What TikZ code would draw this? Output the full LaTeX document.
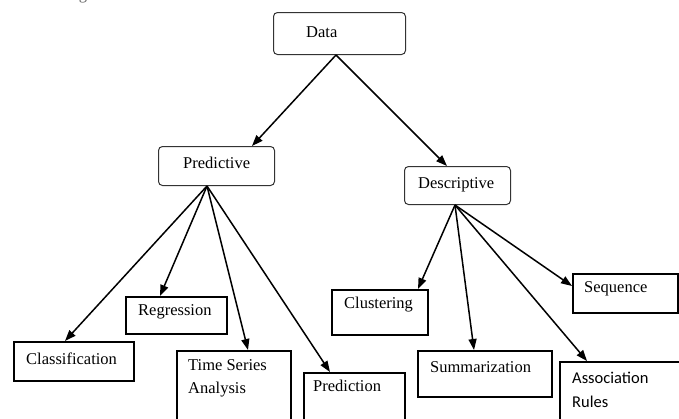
\documentclass[tikz,border=0pt]{standalone}
\usepackage{fontspec}
\setmainfont{Liberation Serif}
\newfontfamily\calib{Carlito}
\usetikzlibrary{arrows.meta}
\tikzset{
  cat/.style={draw=black!80, line width=1pt, rounded corners=4pt, anchor=north west, inner sep=0pt},
  leaf/.style={draw=black, line width=1.6pt, anchor=north west, inner sep=0pt},
  lbl/.style={anchor=west, inner sep=0pt, font=\fontsize{16.5}{23}\selectfont, align=left},
  link/.style={line width=1.5pt, -{Triangle[length=11pt,width=8pt]}}
}
\begin{document}
\begin{tikzpicture}[x=1pt,y=-1pt]
\clip (0,0) rectangle (679,418);
\fill[white] (0,0) rectangle (679,418);

% caption line of the page above, cut by the frame
\node[anchor=base west, inner sep=0pt, font=\fontsize{16.5}{18}\selectfont, text=black!60] (cap) at (-3,-1) {e data mining tasks.};

% category boxes
\node[cat, minimum width=132pt, minimum height=42pt] (data) at (273,12) {};
\node[cat, minimum width=116pt, minimum height=39pt] (pred) at (158,146) {};
\node[cat, minimum width=106pt, minimum height=38pt] (desc) at (404,166) {};

% task boxes
\node[leaf, minimum width=120pt, minimum height=39pt] (cls) at (13,341) {};
\node[leaf, minimum width=101pt, minimum height=37pt] (reg) at (125,296) {};
\node[leaf, minimum width=114pt, minimum height=80pt] (tsa) at (176,350) {};
\node[leaf, minimum width=101pt, minimum height=60pt] (prd) at (303,372) {};
\node[leaf, minimum width=96pt, minimum height=45pt] (clu) at (331,289) {};
\node[leaf, minimum width=134pt, minimum height=46pt] (sum) at (417,350) {};
\node[leaf, minimum width=105pt, minimum height=39pt] (seq) at (572,273) {};
\node[leaf, minimum width=130pt, minimum height=70pt] (asr) at (559,361) {};

% labels
\node[lbl] (tdata) at (306,32) {Data};
\node[lbl] (tpred) at (183,163) {Predictive};
\node[lbl] (tdesc) at (418,185) {Descriptive};
\node[lbl] (tcls) at (26,359) {Classification};
\node[lbl] (treg) at (138,312) {Regression};
\node[lbl] (ttsa) at (188,378.5) {Time Series\\Analysis};
\node[lbl] (tprd) at (313,386) {Prediction};
\node[lbl] (tclu) at (344,305) {Clustering};
\node[lbl] (tsum) at (430,367) {Summarization};
\node[lbl] (tseq) at (584,289) {Sequence};
\node[lbl, font=\calib\fontsize{16.5}{24}\selectfont] (tasr) at (572,390) {Association\\Rules};

% branching points below the category boxes
\coordinate (dsrc) at (data.south -| 336,0);
\coordinate (psrc) at (pred.south -| 207,0);
\coordinate (ssrc) at (desc.south -| 455,0);

% connectors
\draw[link] (dsrc) -- (pred.north -| 252,0);
\draw[link] (dsrc) -- (desc.north -| 447,0);

\draw[link] (psrc) -- (cls.north -| 65,0);
\draw[link] (psrc) -- (reg.north -| 160,0);
\draw[link] (psrc) -- (tsa.north -| 248,0);
\draw[link] (psrc) -- (prd.north -| 330,0);

\draw[link] (ssrc) -- (clu.north -| 418,0);
\draw[link] (ssrc) -- (sum.north -| 474,0);
\draw[link] (ssrc) -- (asr.north -| 587,0);
\draw[link] (ssrc) -- (seq.west |- 0,286);
\end{tikzpicture}
\end{document}
